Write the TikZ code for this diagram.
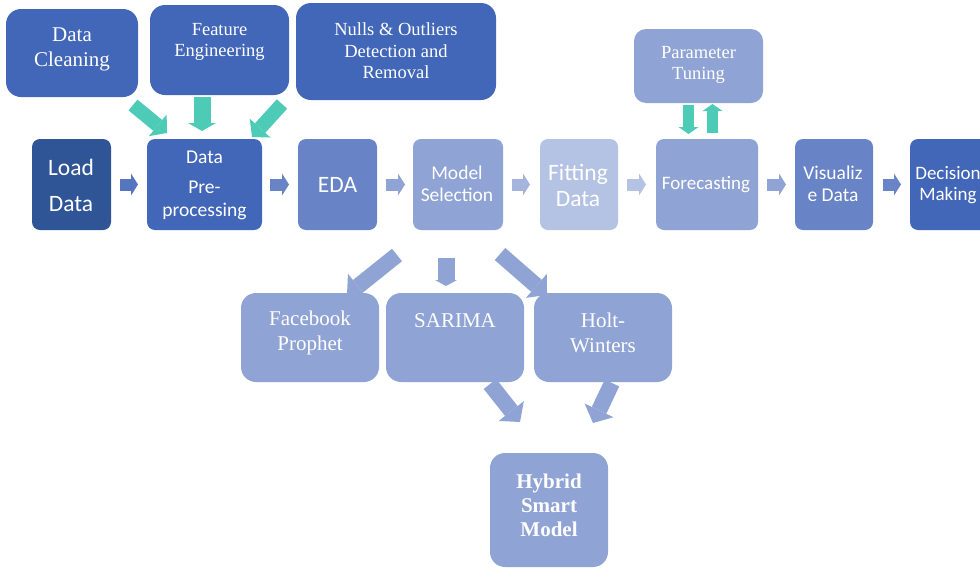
\documentclass[tikz,border=0pt]{standalone}
\usepackage{fontspec}
\setmainfont{Liberation Serif}
\newfontfamily\calfont{Carlito}
\usetikzlibrary{arrows.meta}

\definecolor{navy}{HTML}{2F5597}
\definecolor{midblue}{HTML}{4267B8}
\definecolor{steel}{HTML}{6884C7}
\definecolor{soft}{HTML}{8FA3D4}
\definecolor{paleblue}{HTML}{B4C2E3}
\definecolor{lightsoft}{HTML}{A4B4DC}
\definecolor{mint}{HTML}{4ECBB6}

\begin{document}
\begin{tikzpicture}[x=1pt,y=-1pt,
  box/.style={rectangle, draw=none, inner sep=0pt, outer sep=0pt, rounded corners=#1},
  box/.default=8pt,
  lbl/.style={text=white, align=center, inner sep=0pt},
  serif/.style n args={2}{font=\fontsize{#1}{#2}\selectfont},
  sans/.style n args={2}{font=\calfont\fontsize{#1}{#2}\selectfont},
  blockarrow/.style n args={4}{draw=#1, line width=#2,
    -{Triangle[width=#3, length=#4, line width=0pt, fill=#1]}},
]
\useasboundingbox (0,0) rectangle (980,568);
\clip (0,0) rectangle (980,568);

% ---------- preprocessing inputs ----------
\node[box=15pt, fill=midblue, minimum width=132pt, minimum height=88pt] (clean) at (72,53) {};
\node[box=15pt, fill=midblue, minimum width=139pt, minimum height=90pt] (feature) at (219.5,50) {};
\node[box=15pt, fill=midblue, minimum width=200pt, minimum height=97pt] (nulls) at (396,51.5) {};
\node[lbl, serif={21}{25}] (cleant) at (72,49) {Data\\Cleaning};
\node[lbl, serif={18.5}{21}] (featuret) at (219.5,42) {Feature\\Engineering};
\node[lbl, serif={18.5}{21.5}] (nullst) at (396,51) {Nulls \& Outliers\\Detection and\\Removal};

% ---------- main pipeline ----------
\node[box, fill=navy, minimum width=79pt, minimum height=91pt] (load) at (71.5,184.5) {};
\node[box, fill=midblue, minimum width=115pt, minimum height=91pt] (prep) at (204.5,184.5) {};
\node[box, fill=steel, minimum width=79pt, minimum height=91pt] (eda) at (337.5,184.5) {};
\node[box, fill=soft, minimum width=90pt, minimum height=91pt] (modsel) at (458,184.5) {};
\node[box, fill=paleblue, minimum width=78pt, minimum height=91pt] (fit) at (579,184.5) {};
\node[box, fill=soft, minimum width=102pt, minimum height=91pt] (fore) at (707,184.5) {};
\node[box, fill=steel, minimum width=78pt, minimum height=91pt] (vis) at (834,184.5) {};
\node[box, fill=midblue, minimum width=78pt, minimum height=91pt] (dec) at (949,184.5) {};

\node[lbl, sans={23.5}{36}] (loadt) at (71,185) {Load\\Data};
\node[lbl, sans={19.5}{23}] (prept) at (204.5,185) {Data\\[7pt]Pre-\\processing};
\node[lbl, sans={23.5}{28}] (edat) at (337.5,185) {EDA};
\node[lbl, sans={19.5}{22}] (modselt) at (457,184) {Model\\Selection};
\node[lbl, sans={23.5}{26}] (fitt) at (578,185) {Fitting\\Data};
\node[lbl, sans={19}{22}] (foret) at (706,185) {Forecasting};
\node[lbl, sans={19.5}{22}] (vist) at (833,184) {Visualiz\\e Data};
\node[lbl, sans={19}{21}] (dect) at (948,185) {Decision\\Making};

% ---------- tuning loop ----------
\node[box=12pt, fill=soft, minimum width=129pt, minimum height=74pt] (tune) at (698.5,66) {};
\node[lbl, serif={18.5}{21}] (tunet) at (698.5,65) {Parameter\\Tuning};

% ---------- candidate models ----------
\node[box=15pt, fill=soft, minimum width=138pt, minimum height=89pt] (prophet) at (310,337.5) {};
\node[box=15pt, fill=soft, minimum width=138pt, minimum height=89pt] (sarima) at (455,337.5) {};
\node[box=15pt, fill=soft, minimum width=138pt, minimum height=89pt] (holt) at (603,337.5) {};
\node[box=15pt, fill=soft, minimum width=118pt, minimum height=114pt] (hybrid) at (549,510) {};

\node[lbl, serif={21}{25}] (prophett) at (310,333) {Facebook\\Prophet};
\node[lbl, serif={21}{25}] (sarimat) at (455,321) {SARIMA};
\node[lbl, serif={21}{25}] (holtt) at (603,333) {Holt-\\Winters};
\node[lbl, serif={21}{24}, font=\bfseries\fontsize{21}{24}\selectfont] (hybridt) at (549,505) {Hybrid\\Smart\\Model};

% ---------- arrow end points ----------
\coordinate (c1a) at (133,105);  \coordinate (c1b) at (167,133);
\coordinate (c2a) at (202,97);   \coordinate (c2b) at (202,131);
\coordinate (c3a) at (282,104);  \coordinate (c3b) at (252,137);

\coordinate (r1a) at (120,184.5); \coordinate (r1b) at (138,184.5);
\coordinate (r2a) at (270,184.5); \coordinate (r2b) at (289,184.5);
\coordinate (r3a) at (386,184.5); \coordinate (r3b) at (405,184.5);
\coordinate (r4a) at (512,184.5); \coordinate (r4b) at (530,184.5);
\coordinate (r5a) at (627,184.5); \coordinate (r5b) at (646,184.5);
\coordinate (r6a) at (767,184.5); \coordinate (r6b) at (786,184.5);
\coordinate (r7a) at (883,184.5); \coordinate (r7b) at (901,184.5);

\coordinate (t1a) at (688.5,105); \coordinate (t1b) at (688.5,134);
\coordinate (t2a) at (712.5,133); \coordinate (t2b) at (712.5,104);

\coordinate (m1a) at (397,255);  \coordinate (m1b) at (347,295);
\coordinate (m2a) at (446,258);  \coordinate (m2b) at (446,286);
\coordinate (m3a) at (500,254);  \coordinate (m3b) at (547,295);
\coordinate (h1a) at (490,384);  \coordinate (h1b) at (520,422);
\coordinate (h2a) at (612,383);  \coordinate (h2b) at (593,423);

% ---------- inputs into preprocessing ----------
\draw[blockarrow={mint}{14pt}{28pt}{12pt}] (c1a) -- (c1b);
\draw[blockarrow={mint}{17pt}{28pt}{8pt}]  (c2a) -- (c2b);
\draw[blockarrow={mint}{14pt}{28pt}{12pt}] (c3a) -- (c3b);

% ---------- pipeline steps ----------
\draw[blockarrow={midblue!90!white}{12pt}{22pt}{7pt}] (r1a) -- (r1b);
\draw[blockarrow={steel}{12pt}{22pt}{7pt}]     (r2a) -- (r2b);
\draw[blockarrow={soft}{12pt}{22pt}{7pt}]      (r3a) -- (r3b);
\draw[blockarrow={lightsoft}{12pt}{22pt}{7pt}] (r4a) -- (r4b);
\draw[blockarrow={paleblue}{12pt}{22pt}{7pt}]  (r5a) -- (r5b);
\draw[blockarrow={soft}{12pt}{22pt}{7pt}]      (r6a) -- (r6b);
\draw[blockarrow={steel}{12pt}{22pt}{7pt}]     (r7a) -- (r7b);

% ---------- tuning loop ----------
\draw[blockarrow={mint}{11pt}{20pt}{7pt}] (t1a) -- (t1b);
\draw[blockarrow={mint}{11pt}{20pt}{7pt}] (t2a) -- (t2b);

% ---------- model branches ----------
\draw[blockarrow={soft}{16pt}{32pt}{14pt}] (m1a) -- (m1b);
\draw[blockarrow={soft}{17pt}{22pt}{6pt}]  (m2a) -- (m2b);
\draw[blockarrow={soft}{16pt}{32pt}{14pt}] (m3a) -- (m3b);
\draw[blockarrow={soft}{16pt}{32pt}{14pt}] (h1a) -- (h1b);
\draw[blockarrow={soft}{16pt}{32pt}{14pt}] (h2a) -- (h2b);
\end{tikzpicture}
\end{document}
